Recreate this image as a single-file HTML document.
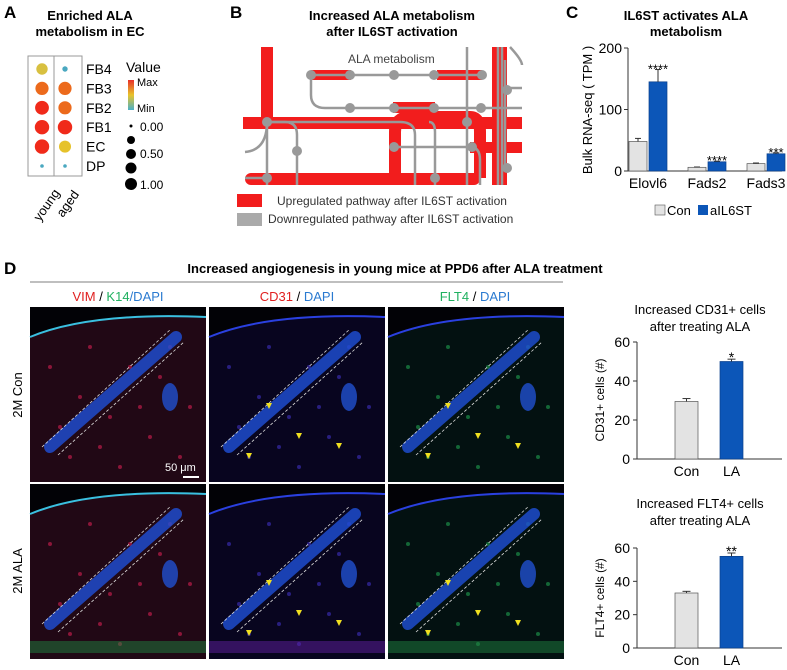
<!DOCTYPE html>
<html><head><meta charset="utf-8"><style>
body{margin:0;width:787px;height:670px;background:#fff;overflow:hidden;font-family:"Liberation Sans",sans-serif}
svg{position:absolute;left:0;top:0}
</style></head><body>
<svg width="787" height="670" font-family="Liberation Sans, sans-serif">
<g>
<text x="4" y="18" font-size="17" font-weight="bold">A</text>
<text x="90" y="20" font-size="13" font-weight="bold" text-anchor="middle">Enriched ALA</text>
<text x="90" y="36" font-size="13" font-weight="bold" text-anchor="middle">metabolism in EC</text>
<rect x="28" y="56" width="54" height="120" fill="none" stroke="#999"/>
<line x1="54" y1="56" x2="54" y2="176" stroke="#999"/>
<g id="dots"></g>
<text x="126" y="72" font-size="14">Value</text>
<defs><linearGradient id="cb" x1="0" y1="0" x2="0" y2="1"><stop offset="0" stop-color="#e8302a"/><stop offset="0.5" stop-color="#e8c42a"/><stop offset="1" stop-color="#4ab0c8"/></linearGradient></defs>
<rect x="128" y="80" width="6" height="30" fill="url(#cb)"/>
<text x="137" y="86" font-size="11">Max</text>
<text x="137" y="112" font-size="11">Min</text>
<circle cx="131" cy="126" r="1.5" fill="#000"/><text x="140" y="131" font-size="12">0.00</text>
<circle cx="131" cy="140" r="4" fill="#000"/>
<circle cx="131" cy="154" r="5" fill="#000"/><text x="140" y="158" font-size="12">0.50</text>
<circle cx="131" cy="168" r="5.5" fill="#000"/>
<circle cx="131" cy="184" r="6" fill="#000"/><text x="140" y="189" font-size="12">1.00</text>
<text transform="translate(40,222) rotate(-55)" font-size="13">young</text>
<text transform="translate(63,218) rotate(-55)" font-size="13">aged</text>
</g>
<g>
<text x="230" y="18" font-size="17" font-weight="bold">B</text>
<text x="392" y="20" font-size="13" font-weight="bold" text-anchor="middle">Increased ALA metabolism</text>
<text x="392" y="36" font-size="13" font-weight="bold" text-anchor="middle">after IL6ST activation</text>
<g>
<rect x="261" y="47" width="12" height="80" fill="#f21d1d"/>
<rect x="243" y="117" width="279" height="12" fill="#f21d1d"/>
<rect x="245" y="173" width="235" height="12" rx="6" fill="#f21d1d"/>
<path d="M395 178 L395 132 Q395 117 410 117 L470 117 Q480 117 480 132 L480 178" fill="none" stroke="#f21d1d" stroke-width="12"/>
<rect x="470" y="142" width="52" height="11" fill="#f21d1d"/>
<rect x="492" y="47" width="15" height="138" fill="#f21d1d"/>
<rect x="311" y="70" width="40" height="10" fill="#f21d1d"/>
<rect x="437" y="70" width="45" height="10" fill="#f21d1d"/>
<rect x="393" y="102" width="42" height="11" fill="#f21d1d"/>
<g stroke="#999" stroke-width="2.5" fill="none">
<path d="M311 75 L482 75"/><path d="M311 75 L311 95 Q311 108 325 108 L522 108"/>
<path d="M267 122 L400 122 Q415 122 415 135 L415 185"/><path d="M267 122 Q267 150 245 152"/>
<path d="M267 122 L267 185"/><path d="M267 122 L285 122 Q297 122 297 135 L297 185"/>
<path d="M395 147 L470 147 Q480 147 480 160 L480 185"/><path d="M429 122 Q435 122 435 132 L435 185"/>
<path d="M467 47 L467 185"/><path d="M498 47 L498 185"/><path d="M502 47 L502 185"/>
<path d="M507 88 L522 88"/><path d="M510 47 Q522 60 522 65"/><path d="M505 60 L505 170"/>
<path d="M245 178 L267 178"/>
</g>
<g fill="#999">
<circle cx="311" cy="75" r="5"/><circle cx="350" cy="75" r="5"/><circle cx="394" cy="75" r="5"/><circle cx="434" cy="75" r="5"/><circle cx="482" cy="75" r="5"/>
<circle cx="350" cy="108" r="5"/><circle cx="394" cy="108" r="5"/><circle cx="434" cy="108" r="5"/><circle cx="481" cy="108" r="5"/>
<circle cx="267" cy="122" r="5"/><circle cx="467" cy="122" r="5"/><circle cx="297" cy="151" r="5"/><circle cx="394" cy="147" r="5"/><circle cx="472" cy="147" r="5"/>
<circle cx="267" cy="178" r="5"/><circle cx="435" cy="178" r="5"/><circle cx="507" cy="90" r="5"/><circle cx="507" cy="168" r="5"/>
</g>
<text x="348" y="63" font-size="12" fill="#444">ALA metabolism</text>
</g>
<rect x="237" y="194" width="25" height="13" fill="#f21d1d"/>
<text x="277" y="205" font-size="12" fill="#333">Upregulated pathway after IL6ST activation</text>
<rect x="237" y="213" width="25" height="13" fill="#aaa"/>
<text x="268" y="223" font-size="12" fill="#333">Downregulated pathway after IL6ST activation</text>
</g>
<g>
<text x="566" y="18" font-size="17" font-weight="bold">C</text>
<text x="686" y="20" font-size="13" font-weight="bold" text-anchor="middle">IL6ST activates ALA</text>
<text x="686" y="36" font-size="13" font-weight="bold" text-anchor="middle">metabolism</text>
<g id="chartC"></g>
<text transform="translate(592,110) rotate(-90)" font-size="13" text-anchor="middle">Bulk RNA-seq ( TPM )</text>
<rect x="655" y="205" width="10" height="10" fill="#e3e3e3" stroke="#555" stroke-width="0.6"/>
<text x="667" y="215" font-size="13">Con</text>
<rect x="698" y="205" width="10" height="10" fill="#0c56b8"/>
<text x="710" y="215" font-size="13">aIL6ST</text>
</g>
<g>
<text x="4" y="274" font-size="17" font-weight="bold">D</text>
<text x="395" y="273" font-size="13" font-weight="bold" text-anchor="middle">Increased angiogenesis in young mice at PPD6 after ALA treatment</text>
<line x1="30" y1="282" x2="563" y2="282" stroke="#999" stroke-width="1.2"/>
<text x="118" y="301" font-size="13" text-anchor="middle"><tspan fill="#e02020">VIM</tspan> / <tspan fill="#20b060">K14</tspan><tspan fill="#2a7ad0">/DAPI</tspan></text>
<text x="297" y="301" font-size="13" text-anchor="middle"><tspan fill="#e02020">CD31</tspan> / <tspan fill="#2a7ad0">DAPI</tspan></text>
<text x="475" y="301" font-size="13" text-anchor="middle"><tspan fill="#20b060">FLT4</tspan> / <tspan fill="#2a7ad0">DAPI</tspan></text>
<text transform="translate(22,395) rotate(-90)" font-size="13" text-anchor="middle">2M Con</text>
<text transform="translate(22,571) rotate(-90)" font-size="13" text-anchor="middle">2M ALA</text>
<g id="micro"></g>
</g>
<g>
<text x="700" y="314" font-size="13" text-anchor="middle">Increased CD31+ cells</text>
<text x="700" y="331" font-size="13" text-anchor="middle">after treating ALA</text>
<text transform="translate(604,400) rotate(-90)" font-size="12" text-anchor="middle">CD31+ cells (#)</text>
<g id="chartD1"></g>
</g>
<g>
<text x="700" y="508" font-size="13" text-anchor="middle">Increased FLT4+ cells</text>
<text x="700" y="525" font-size="13" text-anchor="middle">after treating ALA</text>
<text transform="translate(604,598) rotate(-90)" font-size="12" text-anchor="middle">FLT4+ cells (#)</text>
<g id="chartD2"></g>
</g>
</svg>
<script>
const NS="http://www.w3.org/2000/svg";
function mk(p,t,a){const e=document.createElementNS(NS,t);for(const k in a)e.setAttribute(k,a[k]);p.appendChild(e);return e;}
const dotRows=["FB4","FB3","FB2","FB1","EC","DP"];
const dotGroups=["young","aged"];
const dotColors=[["#d8c040","#4aa8c0"],["#ec6a1c","#ec6a1c"],["#f02a1a","#ec6a1c"],["#f02a1a","#f02a1a"],["#f02a1a","#e6c22a"],["#4aa8c0","#4aa8c0"]];
const dotSizes=[[0.7,0.2],[0.85,0.85],[0.9,0.85],[0.95,0.95],[0.95,0.75],[0.05,0.05]];
const dg=document.getElementById('dots');
dotRows.forEach((r,i)=>{const y=69+i*19.4;
 const t=mk(dg,'text',{x:86,y:y+5,'font-size':14});t.textContent=r;
 
 
 dotGroups.forEach((g,j)=>{const c=mk(dg,'circle',{cx:42+j*23,cy:y,r:1.5+dotSizes[i][j]*6,fill:dotColors[i][j]});
 
 });});
const catsC=["Elovl6","Fads2","Fads3"];
const conC=[48,6,12];const conErrC=[5,0.5,1];
const aC=[145,15,28];const aErrC=[20,1,1.5];
const sigC=["****","****","***"];
const ticksC=[0,100,200];
function barChart(g,o){
 const ys=v=>o.y0-(v/o.max)*(o.y0-o.y1);
 mk(g,'line',{x1:o.ax,y1:o.y1,x2:o.ax,y2:o.y0,stroke:'#333'});
 mk(g,'line',{x1:o.ax,y1:o.y0,x2:o.xe,y2:o.y0,stroke:'#333'});
 o.ticks.forEach(t=>{mk(g,'line',{x1:o.ax-4,y1:ys(t),x2:o.ax,y2:ys(t),stroke:'#333'});
  const tx=mk(g,'text',{x:o.ax-6,y:ys(t)+5,'font-size':o.fs,'text-anchor':'end'});tx.textContent=t;
  
  });
 o.cats.forEach((c,i)=>{const cx=o.c0+i*o.step;
  [[o.a,o.ae,'#e3e3e3',-1],[o.b,o.be,'#0c56b8',1]].forEach(([v,e,col,s],k)=>{
   const x=s<0?cx-o.bw-1:cx+1;
   const r=mk(g,'rect',{x:x,y:ys(v[i]),width:o.bw,height:o.y0-ys(v[i]),fill:col,stroke:k?'#0a3f8a':'#555','stroke-width':0.7});
   
   
   const mx=x+o.bw/2;mk(g,'line',{x1:mx,y1:ys(v[i]),x2:mx,y2:ys(v[i]+e[i]),stroke:'#333'});
   mk(g,'line',{x1:mx-3,y1:ys(v[i]+e[i]),x2:mx+3,y2:ys(v[i]+e[i]),stroke:'#333'});
   if(k&&o.sig){const st=mk(g,'text',{x:mx,y:ys(v[i]+e[i])-2+o.sigdy,'font-size':13,'text-anchor':'middle'});st.textContent=o.sig[i];
    
    }
  });
  const lt=mk(g,'text',{x:cx,y:o.y0+17,'font-size':o.fs,'text-anchor':'middle'});lt.textContent=c;
  
  });
}
barChart(document.getElementById('chartC'),{cats:catsC,a:conC,ae:conErrC,b:aC,be:aErrC,sig:sigC,ticks:ticksC,max:200,ax:628,xe:782,y0:171,y1:48,c0:648,step:59,bw:18,fs:14,sigdy:6});
const catsD=["Con","LA"];
const cd31Vals=[29.5,50];const cd31Err=[1.5,1.2];const cd31Sig=["","*"];
const flt4Vals=[33,55];const flt4Err=[1,2];const flt4Sig=["","**"];
const ticksD=[0,20,40,60];
function single(g,vals,errs,sig,y0,y1){
 const ys=v=>y0-(v/60)*(y0-y1);
 mk(g,'line',{x1:637,y1:y1,x2:637,y2:y0,stroke:'#333'});mk(g,'line',{x1:637,y1:y0,x2:782,y2:y0,stroke:'#333'});
 ticksD.forEach(t=>{mk(g,'line',{x1:633,y1:ys(t),x2:637,y2:ys(t),stroke:'#333'});
  const tx=mk(g,'text',{x:630,y:ys(t)+5,'font-size':14,'text-anchor':'end'});tx.textContent=t;
  
  });
 catsD.forEach((c,i)=>{const x=675+i*45;
  const r=mk(g,'rect',{x:x,y:ys(vals[i]),width:23,height:y0-ys(vals[i]),fill:i?'#0c56b8':'#e3e3e3',stroke:i?'#0a3f8a':'#555','stroke-width':0.7});
  
  
  const mx=x+11.5;mk(g,'line',{x1:mx,y1:ys(vals[i]),x2:mx,y2:ys(vals[i]+errs[i]),stroke:'#333'});
  mk(g,'line',{x1:mx-4,y1:ys(vals[i]+errs[i]),x2:mx+4,y2:ys(vals[i]+errs[i]),stroke:'#333'});
  if(sig[i]){const st=mk(g,'text',{x:mx,y:ys(vals[i]+errs[i])+3,'font-size':14,'text-anchor':'middle'});st.textContent=sig[i];
   
   }
  const lt=mk(g,'text',{x:mx,y:y0+17,'font-size':14,'text-anchor':'middle'});lt.textContent=c;
  
  });
}
single(document.getElementById('chartD1'),cd31Vals,cd31Err,cd31Sig,459,342);
single(document.getElementById('chartD2'),flt4Vals,flt4Err,flt4Sig,648,548);
const mg=document.getElementById('micro');
const cols=[30,209,388],rows=[307,484],W=176,H=175;
const speck=[[20,60],[50,90],[80,110],[120,130],[150,150],[40,150],[100,60],[140,40],[30,120],[90,160],[160,100],[60,40],[110,100],[130,70],[70,140]];
rows.forEach((ry,ri)=>cols.forEach((cx,ci)=>{
 const g=mk(mg,'g',{});
 
 
 mk(g,'rect',{x:cx,y:ry,width:W,height:H,fill:'#020206'});
 const tis=ci==0?'#6a1838':(ci==1?'#180e58':'#08352a');
 mk(g,'path',{d:`M${cx} ${ry+30} Q${cx+60} ${ry+5} ${cx+W} ${ry+10} L${cx+W} ${ry+H} L${cx} ${ry+H}Z`,fill:tis,opacity:0.3});
 const sc=ci==0?'#d02050':(ci==1?'#4030c0':'#20a050');
 speck.forEach(([sx,sy])=>mk(g,'circle',{cx:cx+sx,cy:ry+sy,r:2,fill:sc,opacity:0.6}));
 mk(g,'path',{d:`M${cx} ${ry+30} Q${cx+60} ${ry+5} ${cx+W} ${ry+10}`,stroke:ci==0?'#3ac0e0':'#2a40e0','stroke-width':2,fill:'none'});
 mk(g,'path',{d:`M${cx+20} ${ry+140} L${cx+W-30} ${ry+30}`,stroke:'#1f50d8','stroke-width':12,'stroke-linecap':'round',fill:'none',opacity:0.8});
 mk(g,'path',{d:`M${cx+12} ${ry+140} L${cx+W-35} ${ry+22} M${cx+28} ${ry+148} L${cx+W-22} ${ry+35}`,stroke:'#ddd','stroke-width':0.8,'stroke-dasharray':'3 2',fill:'none'});
 mk(g,'ellipse',{cx:cx+140,cy:ry+90,rx:8,ry:14,fill:'#2050d0',opacity:0.8});
 if(ci>0){[[60,100],[90,130],[130,140],[40,150]].forEach(([ax,ay])=>mk(g,'path',{d:`M${cx+ax-3} ${ry+ay-4} L${cx+ax+3} ${ry+ay-4} L${cx+ax} ${ry+ay+2}Z`,fill:'#f0e020'}));}
 if(ri==1)mk(g,'rect',{x:cx,y:ry+H-18,width:W,height:12,fill:ci==1?'#6020a0':'#208040',opacity:0.5});
}));
const sb=mk(mg,'text',{x:165,y:471,'font-size':11,fill:'#fff'});sb.textContent='50 μm';


mk(mg,'line',{x1:183,y1:477,x2:199,y2:477,stroke:'#fff','stroke-width':2});
</script>
</body></html>
